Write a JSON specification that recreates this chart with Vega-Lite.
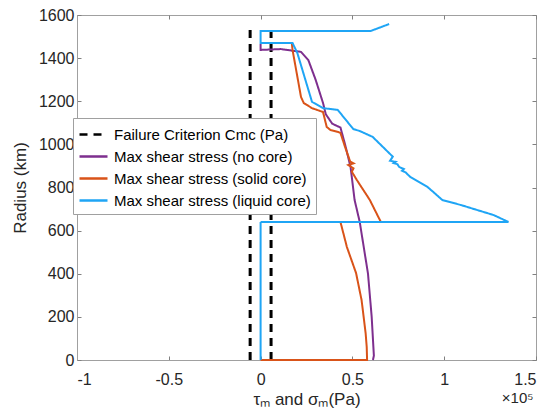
{
  "$schema": "https://vega.github.io/schema/vega-lite/v6.json",
  "width": 459,
  "height": 345,
  "autosize": {"type": "none"},
  "padding": {"left": 77, "top": 15, "right": 11, "bottom": 55},
  "title": {"text": "×10⁵", "orient": "bottom", "anchor": "end", "offset": -16, "dx": -3, "fontSize": 15, "fontWeight": "normal", "color": "#262626", "font": "Liberation Sans"},
  "config": {
    "font": "Liberation Sans",
    "view": {"stroke": "#a0a0a0", "strokeWidth": 1},
    "axis": {
      "grid": false,
      "domainColor": "#a0a0a0",
      "tickColor": "#808080",
      "tickSize": -4,
      "labelColor": "#262626",
      "labelFontSize": 16,
      "labelFont": "Liberation Sans",
      "titleFont": "Liberation Sans",
      "titleFontSize": 17,
      "titleFontWeight": "normal",
      "titleColor": "#262626"
    },
    "legend": {
      "orient": "none",
      "legendX": -4,
      "legendY": 103,
      "fillColor": "white",
      "strokeColor": "#a0a0a0",
      "padding": 5,
      "labelFontSize": 15,
      "labelFont": "Liberation Sans",
      "labelColor": "#000000",
      "labelLimit": 0,
      "symbolType": "M-1.4,0H1.4",
      "symbolSize": 400,
      "symbolStrokeWidth": 2.5,
      "rowPadding": 2,
      "labelOffset": 9,
      "symbolOffset": 4
    }
  },
  "datasets": {
    "criterion": [
      {"series": "Failure Criterion Cmc (Pa)", "line": "left", "order": 0, "stress": -0.057, "radius": 0},
      {"series": "Failure Criterion Cmc (Pa)", "line": "left", "order": 1, "stress": -0.057, "radius": 1542},
      {"series": "Failure Criterion Cmc (Pa)", "line": "right", "order": 0, "stress": 0.057, "radius": 0},
      {"series": "Failure Criterion Cmc (Pa)", "line": "right", "order": 1, "stress": 0.057, "radius": 1542}
    ],
    "nocore": [
      {"series": "Max shear stress (no core)", "order": 0, "stress": 0.612, "radius": 0},
      {"series": "Max shear stress (no core)", "order": 1, "stress": 0.617, "radius": 20},
      {"series": "Max shear stress (no core)", "order": 2, "stress": 0.605, "radius": 200},
      {"series": "Max shear stress (no core)", "order": 3, "stress": 0.585, "radius": 400},
      {"series": "Max shear stress (no core)", "order": 4, "stress": 0.54, "radius": 640},
      {"series": "Max shear stress (no core)", "order": 5, "stress": 0.512, "radius": 742},
      {"series": "Max shear stress (no core)", "order": 6, "stress": 0.49, "radius": 895},
      {"series": "Max shear stress (no core)", "order": 7, "stress": 0.46, "radius": 1000},
      {"series": "Max shear stress (no core)", "order": 8, "stress": 0.435, "radius": 1078},
      {"series": "Max shear stress (no core)", "order": 9, "stress": 0.39, "radius": 1096},
      {"series": "Max shear stress (no core)", "order": 10, "stress": 0.355, "radius": 1140},
      {"series": "Max shear stress (no core)", "order": 11, "stress": 0.34, "radius": 1192},
      {"series": "Max shear stress (no core)", "order": 12, "stress": 0.30, "radius": 1299},
      {"series": "Max shear stress (no core)", "order": 13, "stress": 0.26, "radius": 1391},
      {"series": "Max shear stress (no core)", "order": 14, "stress": 0.22, "radius": 1429},
      {"series": "Max shear stress (no core)", "order": 15, "stress": 0.11, "radius": 1442},
      {"series": "Max shear stress (no core)", "order": 16, "stress": 0.0, "radius": 1438},
      {"series": "Max shear stress (no core)", "order": 17, "stress": 0.0, "radius": 1465}
    ],
    "solid": [
      {"series": "Max shear stress (solid core)", "order": 0, "stress": 0.0, "radius": 0},
      {"series": "Max shear stress (solid core)", "order": 1, "stress": 0.58, "radius": 0},
      {"series": "Max shear stress (solid core)", "order": 2, "stress": 0.578, "radius": 60},
      {"series": "Max shear stress (solid core)", "order": 3, "stress": 0.572, "radius": 125},
      {"series": "Max shear stress (solid core)", "order": 4, "stress": 0.55, "radius": 278},
      {"series": "Max shear stress (solid core)", "order": 5, "stress": 0.52, "radius": 403},
      {"series": "Max shear stress (solid core)", "order": 6, "stress": 0.47, "radius": 524},
      {"series": "Max shear stress (solid core)", "order": 7, "stress": 0.435, "radius": 640},
      {"series": "Max shear stress (solid core)", "order": 8, "stress": 0.655, "radius": 640},
      {"series": "Max shear stress (solid core)", "order": 9, "stress": 0.595, "radius": 742},
      {"series": "Max shear stress (solid core)", "order": 10, "stress": 0.524, "radius": 835},
      {"series": "Max shear stress (solid core)", "order": 11, "stress": 0.497, "radius": 873},
      {"series": "Max shear stress (solid core)", "order": 12, "stress": 0.506, "radius": 889},
      {"series": "Max shear stress (solid core)", "order": 13, "stress": 0.478, "radius": 904},
      {"series": "Max shear stress (solid core)", "order": 14, "stress": 0.506, "radius": 912},
      {"series": "Max shear stress (solid core)", "order": 15, "stress": 0.488, "radius": 920},
      {"series": "Max shear stress (solid core)", "order": 16, "stress": 0.46, "radius": 988},
      {"series": "Max shear stress (solid core)", "order": 17, "stress": 0.435, "radius": 1053},
      {"series": "Max shear stress (solid core)", "order": 18, "stress": 0.42, "radius": 1058},
      {"series": "Max shear stress (solid core)", "order": 19, "stress": 0.38, "radius": 1067},
      {"series": "Max shear stress (solid core)", "order": 20, "stress": 0.36, "radius": 1081},
      {"series": "Max shear stress (solid core)", "order": 21, "stress": 0.34, "radius": 1150},
      {"series": "Max shear stress (solid core)", "order": 22, "stress": 0.28, "radius": 1168},
      {"series": "Max shear stress (solid core)", "order": 23, "stress": 0.235, "radius": 1192},
      {"series": "Max shear stress (solid core)", "order": 24, "stress": 0.22, "radius": 1220},
      {"series": "Max shear stress (solid core)", "order": 25, "stress": 0.174, "radius": 1438},
      {"series": "Max shear stress (solid core)", "order": 26, "stress": 0.17, "radius": 1470}
    ],
    "liquid": [
      {"series": "Max shear stress (liquid core)", "order": 0, "stress": 0.0, "radius": 0},
      {"series": "Max shear stress (liquid core)", "order": 1, "stress": 0.0, "radius": 640},
      {"series": "Max shear stress (liquid core)", "order": 2, "stress": 1.35, "radius": 640},
      {"series": "Max shear stress (liquid core)", "order": 3, "stress": 1.27, "radius": 672},
      {"series": "Max shear stress (liquid core)", "order": 4, "stress": 1.09, "radius": 719},
      {"series": "Max shear stress (liquid core)", "order": 5, "stress": 0.99, "radius": 742},
      {"series": "Max shear stress (liquid core)", "order": 6, "stress": 0.91, "radius": 802},
      {"series": "Max shear stress (liquid core)", "order": 7, "stress": 0.815, "radius": 849},
      {"series": "Max shear stress (liquid core)", "order": 8, "stress": 0.79, "radius": 870},
      {"series": "Max shear stress (liquid core)", "order": 9, "stress": 0.77, "radius": 878},
      {"series": "Max shear stress (liquid core)", "order": 10, "stress": 0.78, "radius": 886},
      {"series": "Max shear stress (liquid core)", "order": 11, "stress": 0.755, "radius": 895},
      {"series": "Max shear stress (liquid core)", "order": 12, "stress": 0.745, "radius": 908},
      {"series": "Max shear stress (liquid core)", "order": 13, "stress": 0.725, "radius": 913},
      {"series": "Max shear stress (liquid core)", "order": 14, "stress": 0.735, "radius": 919},
      {"series": "Max shear stress (liquid core)", "order": 15, "stress": 0.705, "radius": 924},
      {"series": "Max shear stress (liquid core)", "order": 16, "stress": 0.72, "radius": 943},
      {"series": "Max shear stress (liquid core)", "order": 17, "stress": 0.61, "radius": 1035},
      {"series": "Max shear stress (liquid core)", "order": 18, "stress": 0.54, "radius": 1062},
      {"series": "Max shear stress (liquid core)", "order": 19, "stress": 0.505, "radius": 1071},
      {"series": "Max shear stress (liquid core)", "order": 20, "stress": 0.42, "radius": 1160},
      {"series": "Max shear stress (liquid core)", "order": 21, "stress": 0.34, "radius": 1168},
      {"series": "Max shear stress (liquid core)", "order": 22, "stress": 0.28, "radius": 1197},
      {"series": "Max shear stress (liquid core)", "order": 23, "stress": 0.20, "radius": 1424},
      {"series": "Max shear stress (liquid core)", "order": 24, "stress": 0.174, "radius": 1470},
      {"series": "Max shear stress (liquid core)", "order": 25, "stress": 0.0, "radius": 1470},
      {"series": "Max shear stress (liquid core)", "order": 26, "stress": 0.0, "radius": 1526},
      {"series": "Max shear stress (liquid core)", "order": 27, "stress": 0.6, "radius": 1526},
      {"series": "Max shear stress (liquid core)", "order": 28, "stress": 0.7, "radius": 1558}
    ]
  },
  "resolve": {"axis": {"x": "independent", "y": "independent"}},
  "layer": [
    {
      "data": {"name": "criterion"},
      "mark": {"type": "line", "strokeWidth": 3},
      "encoding": {
        "x": {"field": "stress", "type": "quantitative",
              "scale": {"domain": [-1, 1.5], "nice": false, "zero": false},
              "axis": {"orient": "bottom", "values": [-1, -0.5, 0, 0.5, 1, 1.5], "labelExpr": "'' + datum.value", "labelPadding": 15, "title": "τₘ and σₘ(Pa)", "titlePadding": 4}},
        "y": {"field": "radius", "type": "quantitative",
              "scale": {"domain": [0, 1600], "nice": false},
              "axis": {"orient": "left", "values": [0, 200, 400, 600, 800, 1000, 1200, 1400, 1600], "format": "d", "labelPadding": 7, "title": "Radius (km)", "titlePadding": 9}},
        "color": {"field": "series", "type": "nominal",
                  "scale": {"domain": ["Failure Criterion Cmc (Pa)", "Max shear stress (no core)", "Max shear stress (solid core)", "Max shear stress (liquid core)"],
                            "range": ["#000000", "#7E2F8E", "#D95319", "#1FA5F5"]},
                  "legend": {"title": null}},
        "strokeDash": {"field": "series", "type": "nominal",
                  "scale": {"domain": ["Failure Criterion Cmc (Pa)", "Max shear stress (no core)", "Max shear stress (solid core)", "Max shear stress (liquid core)"],
                            "range": [[8, 6], [1, 0], [1, 0], [1, 0]]},
                  "legend": {"title": null}},
        "detail": {"field": "line"},
        "order": {"field": "order", "type": "quantitative"}
      }
    },
    {
      "data": {"name": "nocore"},
      "mark": {"type": "line", "strokeWidth": 2},
      "encoding": {
        "x": {"field": "stress", "type": "quantitative", "axis": null},
        "y": {"field": "radius", "type": "quantitative", "axis": null},
        "color": {"field": "series", "type": "nominal"},
        "strokeDash": {"field": "series", "type": "nominal"},
        "order": {"field": "order", "type": "quantitative"}
      }
    },
    {
      "data": {"name": "solid"},
      "mark": {"type": "line", "strokeWidth": 2},
      "encoding": {
        "x": {"field": "stress", "type": "quantitative", "axis": null},
        "y": {"field": "radius", "type": "quantitative", "axis": null},
        "color": {"field": "series", "type": "nominal"},
        "strokeDash": {"field": "series", "type": "nominal"},
        "order": {"field": "order", "type": "quantitative"}
      }
    },
    {
      "data": {"name": "liquid"},
      "mark": {"type": "line", "strokeWidth": 2},
      "encoding": {
        "x": {"field": "stress", "type": "quantitative",
              "axis": {"orient": "top", "values": [-1, -0.5, 0, 0.5, 1, 1.5], "labels": false, "title": null, "domain": false}},
        "y": {"field": "radius", "type": "quantitative",
              "axis": {"orient": "right", "values": [0, 200, 400, 600, 800, 1000, 1200, 1400, 1600], "labels": false, "title": null, "domain": false}},
        "color": {"field": "series", "type": "nominal"},
        "strokeDash": {"field": "series", "type": "nominal"},
        "order": {"field": "order", "type": "quantitative"}
      }
    }
  ]
}
